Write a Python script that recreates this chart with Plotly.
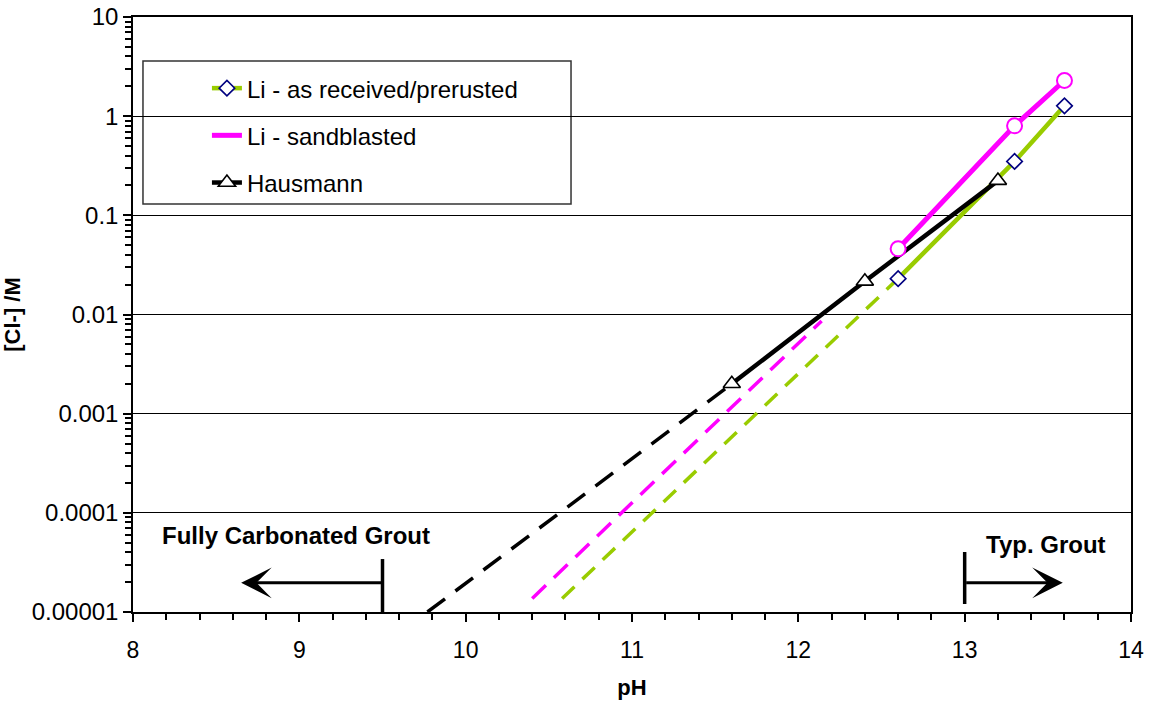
import plotly.graph_objects as go

# ---- data ----
ph_received = [12.6, 13.3, 13.6]
cl_received = [0.023, 0.35, 1.27]
ph_sand = [12.6, 13.3, 13.6]
cl_sand = [0.046, 0.80, 2.29]
ph_haus = [11.6, 12.4, 13.2]
cl_haus = [0.002, 0.0216, 0.224]

# extrapolated trend lines
ext_received_ph = [10.58, 12.6]
ext_received_cl = [1.37e-5, 0.023]
ext_sand_ph = [10.40, 12.14]
ext_sand_cl = [1.37e-5, 0.0086]
ext_haus_ph = [9.77, 11.6]
ext_haus_cl = [1.0e-5, 0.002]

x_ticks = [8, 9, 10, 11, 12, 13, 14]
y_tickvals = [1e-5, 1e-4, 1e-3, 1e-2, 1e-1, 1, 10]
y_ticktext = ["0.00001", "0.0001", "0.001", "0.01", "0.1", "1", "10"]

GREEN = "#99CC00"
MAGENTA = "#FF00FF"
NAVY = "#000080"
FONT = "Liberation Sans, Arial, sans-serif"

fig = go.Figure()

# dashed extrapolations
fig.add_trace(go.Scatter(x=ext_received_ph, y=ext_received_cl, mode="lines",
                         line=dict(color=GREEN, width=3.5, dash="17px,11px"),
                         showlegend=False, hoverinfo="skip"))
fig.add_trace(go.Scatter(x=ext_sand_ph, y=ext_sand_cl, mode="lines",
                         line=dict(color=MAGENTA, width=3.5, dash="19px,11px"),
                         showlegend=False, hoverinfo="skip"))
fig.add_trace(go.Scatter(x=ext_haus_ph, y=ext_haus_cl, mode="lines",
                         line=dict(color="black", width=3.5, dash="22px,13px"),
                         showlegend=False, hoverinfo="skip"))

# solid measured series
fig.add_trace(go.Scatter(x=ph_received, y=cl_received, mode="lines+markers",
                         name="Li - as received/prerusted", legendgroup="a", legendrank=1,
                         line=dict(color=GREEN, width=4.5),
                         marker=dict(symbol="diamond", size=12, color="white",
                                     line=dict(color=NAVY, width=1.6))))
fig.add_trace(go.Scatter(x=ph_haus, y=cl_haus, mode="lines+markers",
                         name="Hausmann", legendgroup="c", legendrank=3,
                         line=dict(color="black", width=4.5),
                         marker=dict(symbol="triangle-up", size=15, color="white",
                                     line=dict(color="black", width=1.6))))
fig.add_trace(go.Scatter(x=ph_sand, y=cl_sand, mode="lines+markers",
                         name="Li - sandblasted", legendgroup="b", legendrank=2,
                         showlegend=False,
                         line=dict(color=MAGENTA, width=5),
                         marker=dict(symbol="circle", size=15, color="white",
                                     line=dict(color=MAGENTA, width=2))))
# legend entry for sandblasted (line only, as in the original legend)
fig.add_trace(go.Scatter(x=[None], y=[None], mode="lines",
                         name="Li - sandblasted", legendgroup="b", legendrank=2,
                         line=dict(color=MAGENTA, width=5)))

# legend frame
fig.add_shape(type="rect", xref="paper", yref="paper", x0=0.01, x1=0.4389,
              y0=0.6857, y1=0.926, line=dict(color="#333333", width=1.5),
              fillcolor="white", layer="below")

# annotations: range markers
fig.add_shape(type="line", xref="x", yref="y domain", x0=9.5, x1=9.5, y0=0, y1=0.089,
              line=dict(color="black", width=3.5))
fig.add_shape(type="line", xref="x", yref="y domain", x0=13.0, x1=13.0, y0=0.0134, y1=0.1008,
              line=dict(color="black", width=3.5))
fig.add_annotation(x=8.65, y=0.049, xref="x", yref="y domain",
                   ax=9.5, ay=0.049, axref="x", ayref="y domain",
                   text="", showarrow=True, arrowhead=3, arrowsize=1.7, arrowwidth=3,
                   arrowcolor="black")
fig.add_annotation(x=13.59, y=0.049, xref="x", yref="y domain",
                   ax=13.0, ay=0.049, axref="x", ayref="y domain",
                   text="", showarrow=True, arrowhead=3, arrowsize=1.7, arrowwidth=3,
                   arrowcolor="black")
fig.add_annotation(x=8.98, y=0.102, xref="x", yref="y domain",
                   text="<b>Fully Carbonated Grout</b>", showarrow=False,
                   font=dict(family=FONT, size=24, color="black"))
fig.add_annotation(x=13.487, y=0.088, xref="x", yref="y domain",
                   text="<b>Typ. Grout</b>", showarrow=False,
                   font=dict(family=FONT, size=24, color="black"))

fig.update_layout(
    width=1154, height=706,
    margin=dict(l=133, r=23, t=17, b=94),
    paper_bgcolor="white", plot_bgcolor="white",
    font=dict(family=FONT, size=23, color="black"),
    legend=dict(x=0.034, y=0.9176, xanchor="left", yanchor="top",
                bgcolor="rgba(0,0,0,0)", borderwidth=0,
                font=dict(family=FONT, size=24, color="black"),
                tracegroupgap=13, indentation=40,
                traceorder="grouped"),
    xaxis=dict(range=[8, 14], tickvals=x_ticks, ticks="outside", ticklen=8,
               tickwidth=1.5, tickcolor="black", showgrid=False, zeroline=False,
               showline=True, linecolor="black", linewidth=1.5, mirror=True,
               automargin=False, ticklabeloverflow="allow", ticklabelstandoff=9,
               minor=dict(dtick=0.2, ticks="outside", ticklen=6, tickcolor="black",
                          tickwidth=1.5, showgrid=False),
               title=dict(text="<b>pH</b>", font=dict(size=22), standoff=17),
               tickfont=dict(size=23)),
    yaxis=dict(type="log", range=[-5, 1], tickvals=y_tickvals, ticktext=y_ticktext,
               ticks="outside", ticklen=8, tickwidth=1.5, tickcolor="black",
               showgrid=True, gridcolor="black", gridwidth=1, zeroline=False,
               showline=True, linecolor="black", linewidth=1.5, mirror=True,
               automargin=False, ticklabeloverflow="allow",
               minor=dict(dtick="D1", ticks="outside", ticklen=6, tickcolor="black",
                          tickwidth=1.5, showgrid=False),
               title=dict(text="<b>[Cl-] /M</b>", font=dict(size=22), standoff=10),
               tickfont=dict(size=24)),
)

# remove the default 8px page margin so the figure fills the window exactly
fig.write_html("out.html", config={"displayModeBar": False},
               post_script="document.body.style.margin='0';")
